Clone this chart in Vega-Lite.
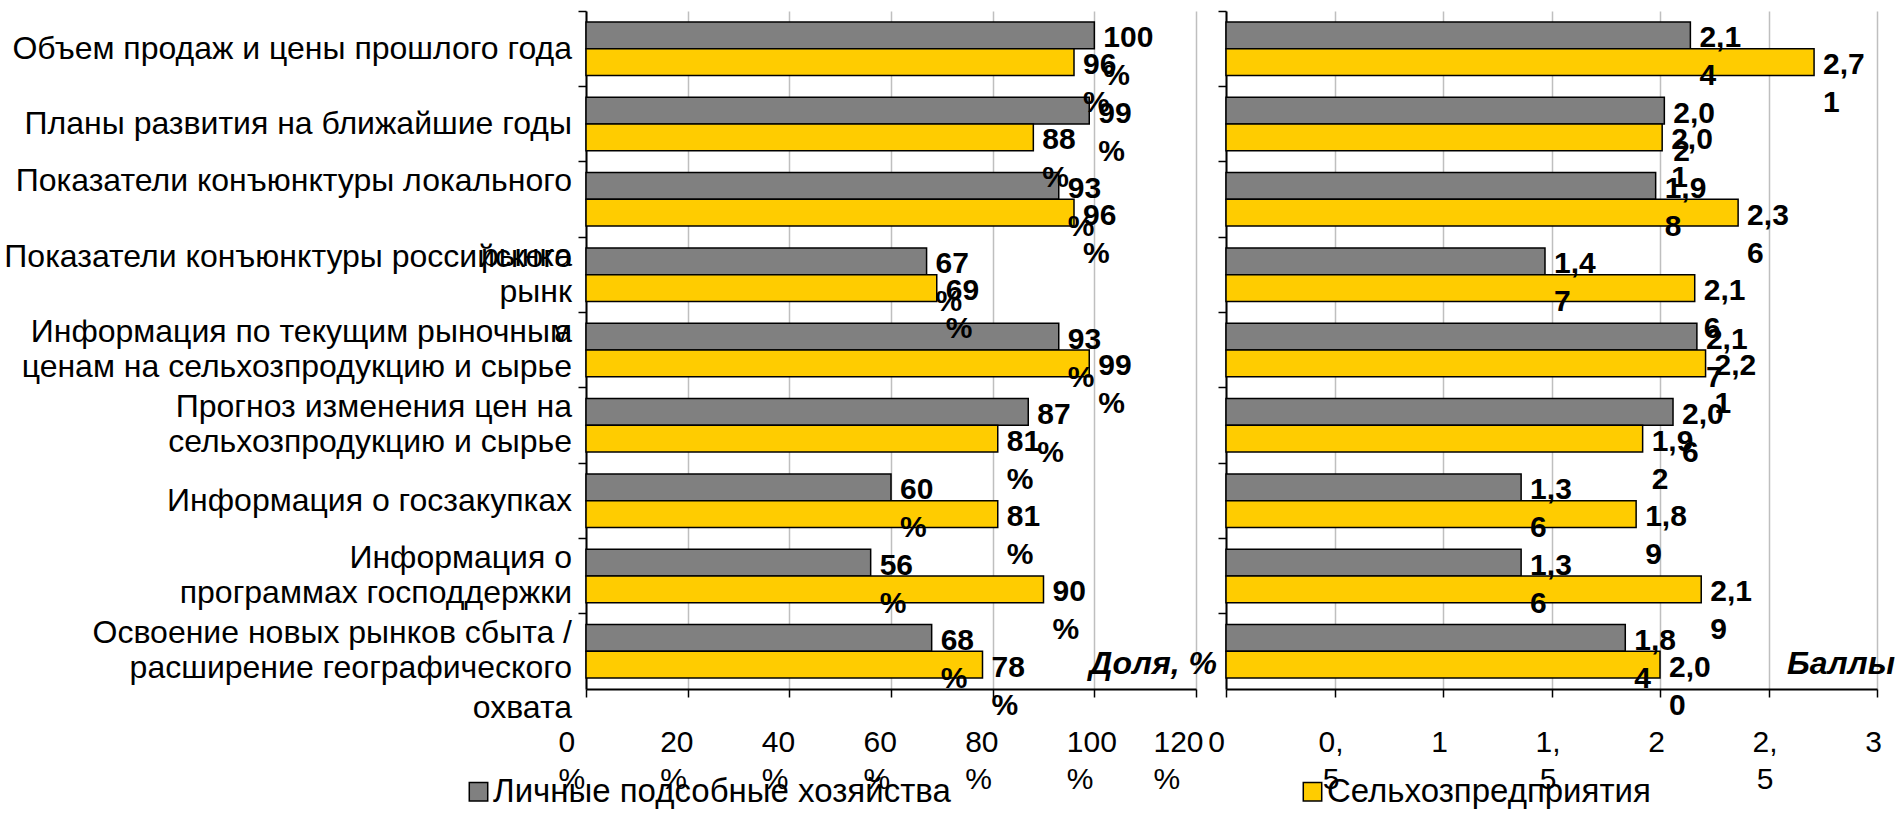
{
  "$schema": "https://vega.github.io/schema/vega-lite/v6.json",
  "background": "white",
  "padding": {"left": 4, "top": 10, "right": 0, "bottom": 0},
  "config": {
    "font": "Liberation Sans",
    "view": {"stroke": null},
    "axis": {"labelFont": "Liberation Sans", "labelColor": "black", "tickColor": "black", "domainColor": "black", "domainWidth": 2, "tickWidth": 1.5, "tickSize": 8, "title": null}
  },
  "datasets": {
    "rows": [
      {"cat": "Объем продаж и цены прошлого года", "group": "Личные подсобные хозяйства", "share": 100, "score": 2.14},
      {"cat": "Объем продаж и цены прошлого года", "group": "Сельхозпредприятия", "share": 96, "score": 2.71},
      {"cat": "Планы развития на ближайшие годы", "group": "Личные подсобные хозяйства", "share": 99, "score": 2.02},
      {"cat": "Планы развития на ближайшие годы", "group": "Сельхозпредприятия", "share": 88, "score": 2.01},
      {"cat": "Показатели конъюнктуры локального рынка", "group": "Личные подсобные хозяйства", "share": 93, "score": 1.98},
      {"cat": "Показатели конъюнктуры локального рынка", "group": "Сельхозпредприятия", "share": 96, "score": 2.36},
      {"cat": "Показатели конъюнктуры российского рынка", "group": "Личные подсобные хозяйства", "share": 67, "score": 1.47},
      {"cat": "Показатели конъюнктуры российского рынка", "group": "Сельхозпредприятия", "share": 69, "score": 2.16},
      {"cat": "Информация по текущим рыночным ценам на сельхозпродукцию и сырье", "group": "Личные подсобные хозяйства", "share": 93, "score": 2.17},
      {"cat": "Информация по текущим рыночным ценам на сельхозпродукцию и сырье", "group": "Сельхозпредприятия", "share": 99, "score": 2.21},
      {"cat": "Прогноз изменения цен на сельхозпродукцию и сырье", "group": "Личные подсобные хозяйства", "share": 87, "score": 2.06},
      {"cat": "Прогноз изменения цен на сельхозпродукцию и сырье", "group": "Сельхозпредприятия", "share": 81, "score": 1.92},
      {"cat": "Информация о госзакупках", "group": "Личные подсобные хозяйства", "share": 60, "score": 1.36},
      {"cat": "Информация о госзакупках", "group": "Сельхозпредприятия", "share": 81, "score": 1.89},
      {"cat": "Информация о программах господдержки", "group": "Личные подсобные хозяйства", "share": 56, "score": 1.36},
      {"cat": "Информация о программах господдержки", "group": "Сельхозпредприятия", "share": 90, "score": 2.19},
      {"cat": "Освоение новых рынков сбыта / расширение географического охвата", "group": "Личные подсобные хозяйства", "share": 68, "score": 1.84},
      {"cat": "Освоение новых рынков сбыта / расширение географического охвата", "group": "Сельхозпредприятия", "share": 78, "score": 2.0}
    ],
    "cats": [
      {"cat": "Объем продаж и цены прошлого года", "label": "Объем продаж и цены прошлого года", "extra": ""},
      {"cat": "Планы развития на ближайшие годы", "label": "Планы развития на ближайшие годы", "extra": ""},
      {"cat": "Показатели конъюнктуры локального рынка", "label": "Показатели конъюнктуры локального\n ", "extra": "рынка"},
      {"cat": "Показатели конъюнктуры российского рынка", "label": "Показатели конъюнктуры российского\nрынк", "extra": "а"},
      {"cat": "Информация по текущим рыночным ценам на сельхозпродукцию и сырье", "label": "Информация по текущим рыночным\nценам на сельхозпродукцию и сырье", "extra": ""},
      {"cat": "Прогноз изменения цен на сельхозпродукцию и сырье", "label": "Прогноз изменения цен на\nсельхозпродукцию и сырье", "extra": ""},
      {"cat": "Информация о госзакупках", "label": "Информация о госзакупках", "extra": ""},
      {"cat": "Информация о программах господдержки", "label": "Информация о\nпрограммах господдержки", "extra": ""},
      {"cat": "Освоение новых рынков сбыта / расширение географического охвата", "label": "Освоение новых рынков сбыта /\nрасширение географического", "extra": "охвата"}
    ]
  },
  "resolve": {"scale": {"x": "independent", "y": "shared", "yOffset": "shared", "color": "shared"}},
  "spacing": 30,
  "bounds": "flush",
  "hconcat": [
    {
      "width": 610,
      "height": 678,
      "layer": [
        {
          "data": {"name": "rows"},
          "mark": {"type": "bar", "stroke": "black", "strokeWidth": 1.5},
          "encoding": {
            "y": {"field": "cat", "type": "nominal", "sort": null,
              "scale": {"domain": ["Объем продаж и цены прошлого года", "Планы развития на ближайшие годы", "Показатели конъюнктуры локального рынка", "Показатели конъюнктуры российского рынка", "Информация по текущим рыночным ценам на сельхозпродукцию и сырье", "Прогноз изменения цен на сельхозпродукцию и сырье", "Информация о госзакупках", "Информация о программах господдержки", "Освоение новых рынков сбыта / расширение географического охвата"], "paddingInner": 0.29, "paddingOuter": 0.145},
              "axis": {"labels": false, "grid": false, "bandPosition": -0.204}},
            "yOffset": {"field": "group", "type": "nominal", "sort": null, "scale": {"domain": ["Личные подсобные хозяйства", "Сельхозпредприятия"]}},
            "x": {"field": "share", "type": "quantitative", "scale": {"domain": [0, 120], "nice": false},
              "axis": {"values": [0, 20, 40, 60, 80, 100, 120], "grid": true, "gridColor": "#BFBFBF", "gridWidth": 1.5, "labelFontSize": 30, "labelLineHeight": 37, "labelBaseline": "top", "labelPadding": 30, "labelAlign": "left",
                "labelOffset": {"condition": {"test": "datum.value >= 120", "value": -43}, "value": -28},
                "labelExpr": "[datum.label, '%']", "labelOverlap": false, "labelFlush": false}},
            "color": {"field": "group", "type": "nominal", "sort": null,
              "scale": {"domain": ["Личные подсобные хозяйства", "Сельхозпредприятия"], "range": ["#808080", "#FFCC00"]},
              "legend": {"title": null, "orient": "none", "legendX": -124, "legendY": 764, "direction": "horizontal", "labelFontSize": 33, "labelFont": "Liberation Sans", "labelColor": "black", "symbolType": "square", "symbolSize": 340, "symbolStrokeColor": "black", "symbolStrokeWidth": 1.5, "columnPadding": 345, "labelOffset": -2, "padding": 0, "labelLimit": 0}}
          }
        },
        {
          "data": {"name": "rows"},
          "transform": [{"calculate": "format(datum.share, 'd') + '\\n%'", "as": "lab"}],
          "mark": {"type": "text", "align": "left", "baseline": "top", "dx": 9, "dy": -12, "fontSize": 30, "fontWeight": "bold", "lineBreak": "\n", "lineHeight": 38, "color": "black"},
          "encoding": {
            "y": {"field": "cat", "type": "nominal", "sort": null},
            "yOffset": {"field": "group", "type": "nominal", "sort": null},
            "x": {"field": "share", "type": "quantitative"},
            "text": {"field": "lab"}
          }
        },
        {
          "data": {"name": "cats"},
          "transform": [{"filter": "indexof(datum.label, '\\n') < 0"}],
          "mark": {"type": "text", "align": "right", "baseline": "middle", "dx": -14, "fontSize": 32, "color": "black"},
          "encoding": {
            "y": {"field": "cat", "type": "nominal", "sort": null},
            "x": {"datum": 0},
            "text": {"field": "label"}
          }
        },
        {
          "data": {"name": "cats"},
          "transform": [{"filter": "indexof(datum.label, '\\n') >= 0"}],
          "mark": {"type": "text", "align": "right", "baseline": "middle", "dx": -14, "dy": -18, "fontSize": 32, "lineBreak": "\n", "lineHeight": 35, "color": "black"},
          "encoding": {
            "y": {"field": "cat", "type": "nominal", "sort": null},
            "x": {"datum": 0},
            "text": {"field": "label"}
          }
        },
        {
          "data": {"name": "cats"},
          "mark": {"type": "text", "align": "right", "baseline": "middle", "dx": -14, "dy": 57, "fontSize": 32, "color": "black"},
          "encoding": {
            "y": {"field": "cat", "type": "nominal", "sort": null},
            "x": {"datum": 0},
            "text": {"field": "extra"}
          }
        },
        {
          "data": {"values": [{"note": "Доля, %"}]},
          "mark": {"type": "text", "align": "right", "baseline": "middle", "dx": 21, "dy": 13, "fontSize": 32, "fontWeight": "bold", "fontStyle": "italic", "color": "black"},
          "encoding": {
            "y": {"datum": "Освоение новых рынков сбыта / расширение географического охвата"},
            "x": {"datum": 120},
            "text": {"field": "note"}
          }
        }
      ]
    },
    {
      "width": 651,
      "height": 678,
      "layer": [
        {
          "data": {"name": "rows"},
          "mark": {"type": "bar", "stroke": "black", "strokeWidth": 1.5},
          "encoding": {
            "y": {"field": "cat", "type": "nominal", "sort": null,
              "axis": {"labels": false, "grid": false, "bandPosition": -0.204}},
            "yOffset": {"field": "group", "type": "nominal", "sort": null},
            "x": {"field": "score", "type": "quantitative", "scale": {"domain": [0, 3], "nice": false},
              "axis": {"values": [0, 0.5, 1, 1.5, 2, 2.5, 3], "grid": true, "gridColor": "#BFBFBF", "gridWidth": 1.5, "labelFontSize": 30, "labelLineHeight": 37, "labelBaseline": "top", "labelPadding": 30, "labelAlign": "center",
                "labelOffset": {"condition": {"test": "datum.value == 0", "value": -10}, "value": -4},
                "labelExpr": "datum.value % 1 ? [floor(datum.value) + ',', '5'] : '' + datum.value", "labelOverlap": false, "labelFlush": false}},
            "color": {"field": "group", "type": "nominal", "sort": null, "legend": null}
          }
        },
        {
          "data": {"name": "rows"},
          "transform": [
            {"calculate": "replace(format(datum.score, '.2f'), '.', ',')", "as": "s"},
            {"calculate": "substring(datum.s, 0, 3) + '\\n' + substring(datum.s, 3)", "as": "lab"}
          ],
          "mark": {"type": "text", "align": "left", "baseline": "top", "dx": 9, "dy": -12, "fontSize": 30, "fontWeight": "bold", "lineBreak": "\n", "lineHeight": 38, "color": "black"},
          "encoding": {
            "y": {"field": "cat", "type": "nominal", "sort": null},
            "yOffset": {"field": "group", "type": "nominal", "sort": null},
            "x": {"field": "score", "type": "quantitative"},
            "text": {"field": "lab"}
          }
        },
        {
          "data": {"values": [{"note": "Баллы"}]},
          "mark": {"type": "text", "align": "right", "baseline": "middle", "dx": 18, "dy": 13, "fontSize": 32, "fontWeight": "bold", "fontStyle": "italic", "color": "black"},
          "encoding": {
            "y": {"datum": "Освоение новых рынков сбыта / расширение географического охвата"},
            "x": {"datum": 3},
            "text": {"field": "note"}
          }
        }
      ]
    }
  ]
}
